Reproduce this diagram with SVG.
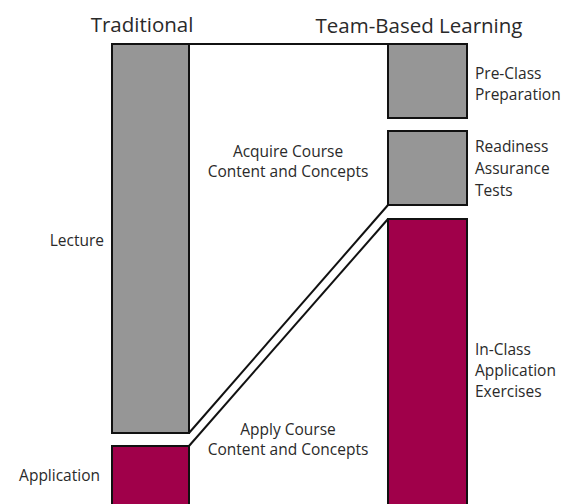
<svg xmlns="http://www.w3.org/2000/svg" width="566" height="504" viewBox="0 0 566 504">
<style>
.gray{fill:#969696;stroke:#111;stroke-width:2}
.mar{fill:#A0004A;stroke:#111;stroke-width:2}
.ln{fill:none;stroke:#111;stroke-width:2}
text{font-family:"Open Sans","Noto Sans",sans-serif;fill:#2a2a2a}
.h{font-size:20.5px}
.l{font-size:15.5px}
.c{text-anchor:middle}
.r{text-anchor:end}
</style>
<rect width="566" height="504" fill="#fff"/>
<text class="h" x="142" y="32" text-anchor="middle">Traditional</text>
<text class="h" x="419" y="33" text-anchor="middle">Team-Based Learning</text>
<g id="connectors">
<line class="ln" x1="189" y1="44" x2="388" y2="44"/>
<line class="ln" x1="189" y1="433" x2="388" y2="205"/>
<line class="ln" x1="189" y1="446" x2="388" y2="219"/>
</g>
<g id="lecture">
<rect class="gray" x="112" y="44" width="77" height="389"/>
<text class="l r" x="104" y="246">Lecture</text>
</g>
<g id="application">
<rect class="mar" x="112" y="446" width="77" height="70"/>
<text class="l r" x="100" y="481">Application</text>
</g>
<g id="preclass">
<rect class="gray" x="388" y="44" width="79" height="74"/>
<text class="l" x="475" y="79">Pre-Class</text>
<text class="l" x="475" y="100">Preparation</text>
</g>
<g id="rat">
<rect class="gray" x="388" y="131" width="79" height="74"/>
<text class="l" x="475" y="152">Readiness</text>
<text class="l" x="475" y="174">Assurance</text>
<text class="l" x="475" y="196">Tests</text>
</g>
<g id="inclass">
<rect class="mar" x="388" y="219" width="79" height="300"/>
<text class="l" x="475" y="355">In-Class</text>
<text class="l" x="475" y="376">Application</text>
<text class="l" x="475" y="397">Exercises</text>
</g>
<g id="acquire">
<text class="l c" x="288" y="157">Acquire Course</text>
<text class="l c" x="288" y="177">Content and Concepts</text>
</g>
<g id="apply">
<text class="l c" x="288" y="435">Apply Course</text>
<text class="l c" x="288" y="455">Content and Concepts</text>
</g>
</svg>
